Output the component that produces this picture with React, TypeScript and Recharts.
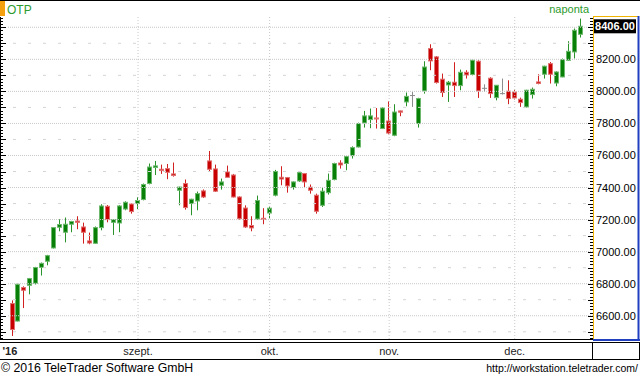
import { ComposedChart, Bar, XAxis, YAxis, ReferenceLine } from 'recharts'

// daily OHLC (Aug - Dec 2016)
const opens = [
  6676, 6567, 6776, 6790, 6803, 6902, 6940, 7023, 7152, 7121, 7171, 7191, 7154, 7067, 7052, 7150,
  7283, 7183, 7179, 7266, 7297, 7300, 7325, 7425, 7525, 7514, 7518, 7485, 7383, 7425, 7300, 7316,
  7379, 7566, 7516, 7414, 7497, 7478, 7341, 7272, 7163, 7204, 7208, 7241, 7352, 7464, 7462, 7400,
  7441, 7487, 7402, 7352, 7289, 7368, 7450, 7553, 7550, 7599, 7653, 7803, 7824, 7834, 7768, 7815,
  7726, 7878, 7934, 7974, 7799, 8003, 8267, 8215, 8076, 8040, 8057, 8036, 8119, 8105, 8188, 8019,
  8082, 7961, 7986, 8001, 7996, 7951, 7903, 7980, 8059, 8107, 8173, 8052, 8090, 8194, 8246, 8356,
]
const highs = [
  6696, 6800, 6784, 6836, 6905, 6932, 6980, 7152, 7202, 7213, 7192, 7221, 7181, 7119, 7157, 7296,
  7291, 7200, 7290, 7314, 7300, 7341, 7425, 7550, 7566, 7543, 7547, 7556, 7405, 7450, 7330, 7375,
  7388, 7628, 7543, 7456, 7537, 7485, 7345, 7289, 7221, 7350, 7271, 7285, 7510, 7533, 7466, 7438,
  7500, 7490, 7419, 7362, 7403, 7487, 7555, 7570, 7597, 7657, 7805, 7878, 7893, 7896, 7900, 7938,
  7920, 7880, 7993, 7996, 7960, 8188, 8294, 8220, 8111, 8065, 8182, 8136, 8132, 8200, 8194, 8044,
  8088, 8040, 8080, 8069, 8011, 7961, 8010, 8024, 8107, 8160, 8183, 8125, 8205, 8313, 8392, 8454,
]
const lows = [
  6474, 6565, 6648, 6734, 6795, 6851, 6915, 7020, 7127, 7058, 7121, 7140, 7050, 7046, 7050, 7133,
  7183, 7104, 7121, 7258, 7237, 7266, 7320, 7420, 7478, 7485, 7452, 7468, 7289, 7262, 7227, 7258,
  7335, 7500, 7372, 7387, 7464, 7338, 7200, 7148, 7127, 7200, 7171, 7206, 7345, 7414, 7368, 7387,
  7435, 7403, 7362, 7237, 7279, 7356, 7445, 7518, 7508, 7581, 7650, 7774, 7770, 7768, 7765, 7732,
  7720, 7845, 7907, 7903, 7774, 7986, 8132, 8049, 7965, 7934, 7965, 8007, 8080, 8100, 7959, 7996,
  7959, 7944, 7980, 7920, 7949, 7903, 7900, 7955, 8044, 8080, 8049, 8032, 8088, 8190, 8205, 8336,
]
const closes = [
  6514, 6796, 6759, 6832, 6901, 6927, 6975, 7150, 7169, 7171, 7188, 7183, 7121, 7054, 7150, 7285,
  7200, 7200, 7285, 7308, 7250, 7319, 7419, 7528, 7535, 7506, 7495, 7475, 7403, 7275, 7327, 7362,
  7341, 7514, 7377, 7435, 7464, 7341, 7206, 7154, 7148, 7319, 7202, 7271, 7500, 7453, 7410, 7435,
  7493, 7435, 7383, 7252, 7377, 7445, 7550, 7541, 7593, 7649, 7799, 7847, 7847, 7828, 7896, 7740,
  7871, 7870, 7969, 7974, 7955, 8152, 8190, 8055, 7993, 8057, 8036, 8119, 8102, 8194, 8003, 8019,
  7986, 8038, 7986, 7955, 7959, 7930, 8007, 8013, 8049, 8157, 8107, 8121, 8198, 8250, 8381, 8406,
]

const monthTicks = [0, 21, 43, 63, 84]
const monthLabels = ["'16", 'szept.', 'okt.', 'nov.', 'dec.']

const priceLabels = [6600, 6800, 7000, 7200, 7400, 7600, 7800, 8000, 8200]
const gridLevels = [6600, 6800, 7000, 7200, 7400, 7600, 7800, 8000, 8200, 8400]
const halfLevels = [6500, 6700, 6900, 7100, 7300, 7500, 7700, 7900, 8100, 8300]
const lastPrice = 8406
const yDomain = [6455, 8464]

const data = opens.map((open, i) => ({ i, open, high: highs[i], low: lows[i], close: closes[i] }))

// small tick marks along both price axes, every 20
const axisTicks = Array.from({ length: 101 }, (_, k) => 6460 + k * 20)

const FONT = '"Liberation Sans", Arial, sans-serif'
const GREEN = '#088008'
const RED = '#c80000'

// eslint-disable-next-line @typescript-eslint/no-explicit-any
const Candle = (props: any) => {
  const { x, y, width, height, payload } = props
  const { open, close, high, low } = payload
  const cx = Math.floor(x + width / 2) + 0.5
  const k = high === low ? 0 : height / (high - low)
  const yOpen = y + (high - open) * k
  const yClose = y + (high - close) * k
  const flat = open === close
  const up = close > open
  const fill = flat ? '#8c8c8c' : up ? GREEN : RED
  const rim = flat ? '#b0b0b0' : up ? '#6cb86c' : '#e07070'
  const top = Math.min(yOpen, yClose)
  const bh = Math.max(1, Math.abs(yOpen - yClose))
  return (
    <g>
      <line x1={cx} x2={cx} y1={y} y2={y + height} stroke={flat ? '#8c8c8c' : up ? '#2a922a' : '#d02020'} />
      {flat ? (
        <line x1={cx - 2.5} x2={cx + 2.5} y1={top} y2={top} stroke={fill} />
      ) : (
        <rect x={cx - 2} y={top} width={4} height={bh} fill={fill} stroke={rim} strokeWidth={1} />
      )}
    </g>
  )
}

// eslint-disable-next-line @typescript-eslint/no-explicit-any
const LeftTick = ({ x, y, payload }: any) => {
  const major = payload.value % 100 === 0
  return <line x1={x - 8} x2={x - 8 + (major ? 6 : 3)} y1={Math.round(y) + 0.5} y2={Math.round(y) + 0.5} stroke="#000" />
}

// eslint-disable-next-line @typescript-eslint/no-explicit-any
const RightTick = ({ x, y, payload }: any) => {
  const v = payload.value
  const major = v % 100 === 0
  const yy = Math.round(y) + 0.5
  return (
    <g>
      <line x1={x - (major ? 5 : 3)} x2={x} y1={yy} y2={yy} stroke="#000" />
      {priceLabels.includes(v) && (
        <text x={x + 3} y={y + 4} fontSize={11} fontFamily={FONT} fill="#000">
          {v.toFixed(2)}
        </text>
      )}
    </g>
  )
}

// eslint-disable-next-line @typescript-eslint/no-explicit-any
const MonthTick = ({ x, y, payload }: any) => {
  const idx = monthTicks.indexOf(payload.value)
  if (idx < 0) return null
  const first = idx === 0
  return (
    <text
      x={first ? x - 10 : x}
      y={y + 16}
      textAnchor={first ? 'start' : 'middle'}
      fontSize={11}
      fontWeight={first ? 'bold' : 'normal'}
      fontFamily={FONT}
      fill="#222"
    >
      {monthLabels[idx]}
    </text>
  )
}

// eslint-disable-next-line @typescript-eslint/no-explicit-any
const PriceTag = ({ viewBox }: any) => {
  if (!viewBox) return null
  const x = viewBox.x + viewBox.width + 1
  const y = viewBox.y
  return (
    <g>
      <rect x={x} y={y - 7} width={42} height={14} fill="#000" />
      <text x={x + 21} y={y + 4} textAnchor="middle" fontSize={11} fontWeight="bold" fontFamily={FONT} fill="#fff">
        {lastPrice.toFixed(2)}
      </text>
    </g>
  )
}

export default function App() {
  return (
    <div style={{ position: 'absolute', left: 0, top: 0, width: 640, height: 377, background: '#fff', fontFamily: FONT }}>
      <ComposedChart width={640} height={359} data={data} margin={{ top: 17, right: 0, bottom: 0, left: 0 }}>
        <XAxis
          dataKey="i"
          height={20}
          ticks={monthTicks}
          interval={0}
          tick={<MonthTick />}
          tickLine={false}
          axisLine={false}
          tickSize={0}
          tickMargin={0}
          padding={{ left: 1.5, right: 9.5 }}
        />
        <YAxis yAxisId="left" orientation="left" width={8} domain={yDomain} type="number" ticks={axisTicks}
          interval={0} tick={<LeftTick />} tickLine={false} axisLine={false} tickSize={0} tickMargin={0} allowDataOverflow />
        <YAxis yAxisId="right" orientation="right" width={47} domain={yDomain} type="number" ticks={axisTicks}
          interval={0} tick={<RightTick />} tickLine={false} axisLine={false} tickSize={0} tickMargin={0} allowDataOverflow />

        {halfLevels.map((v) => (
          <ReferenceLine key={'h' + v} yAxisId="right" y={v} stroke="#d4d4d4" strokeDasharray="3 12" strokeDashoffset={-7} />
        ))}
        {gridLevels.map((v) => (
          <ReferenceLine key={'g' + v} yAxisId="right" y={v} stroke="#c8c8c8" strokeDasharray="1 1" />
        ))}
        {monthTicks.slice(1).map((t) => (
          <ReferenceLine key={'m' + t} yAxisId="right" x={t} stroke="#c8c8c8" strokeDasharray="1 2" />
        ))}

        <Bar
          yAxisId="right"
          dataKey={(d: { low: number; high: number }) => [d.low, d.high]}
          barSize={5}
          shape={<Candle />}
          isAnimationActive={false}
        />

        <ReferenceLine yAxisId="right" y={lastPrice} stroke="none" label={<PriceTag />} />
      </ComposedChart>

      <svg width={640} height={377} style={{ position: 'absolute', left: 0, top: 0, pointerEvents: 'none' }}>
        <line x1={0} x2={640} y1={0.5} y2={0.5} stroke="#000" />
        <rect x={0} y={1} width={5} height={15} fill="#f5a00f" />
        <text x={7} y={13.5} fontSize={12} fontFamily={FONT} fill="#2c9a2c">OTP</text>
        <text x={589} y={13} textAnchor="end" fontSize={11} fontFamily={FONT} fill="#2c9a2c">naponta</text>

        <line x1={0.5} x2={0.5} y1={17} y2={340} stroke="#000" />
        <line x1={0} x2={593} y1={339.5} y2={339.5} stroke="#000" />
        <line x1={0} x2={640} y1={342.5} y2={342.5} stroke="#000" />
        <line x1={0} x2={640} y1={359.5} y2={359.5} stroke="#000" />
        <line x1={592.5} x2={592.5} y1={342} y2={360} stroke="#000" />
        <line x1={639.5} x2={639.5} y1={342} y2={360} stroke="#000" />

        <line x1={593.5} x2={593.5} y1={16} y2={339} stroke="#f0b400" />
        <line x1={593} x2={638} y1={16.5} y2={16.5} stroke="#f0b400" />
        <line x1={638.5} x2={638.5} y1={16} y2={341} stroke="#2040c0" strokeWidth={2} />
        <line x1={593} x2={640} y1={340} y2={340} stroke="#2040c0" strokeWidth={2} />

        <text x={1} y={372} fontSize={12.3} fontFamily={FONT} fill="#000">© 2016 TeleTrader Software GmbH</text>
        <text x={638} y={372} textAnchor="end" fontSize={10.5} fontFamily={FONT} fill="#000">http://workstation.teletrader.com/</text>
      </svg>
    </div>
  )
}
